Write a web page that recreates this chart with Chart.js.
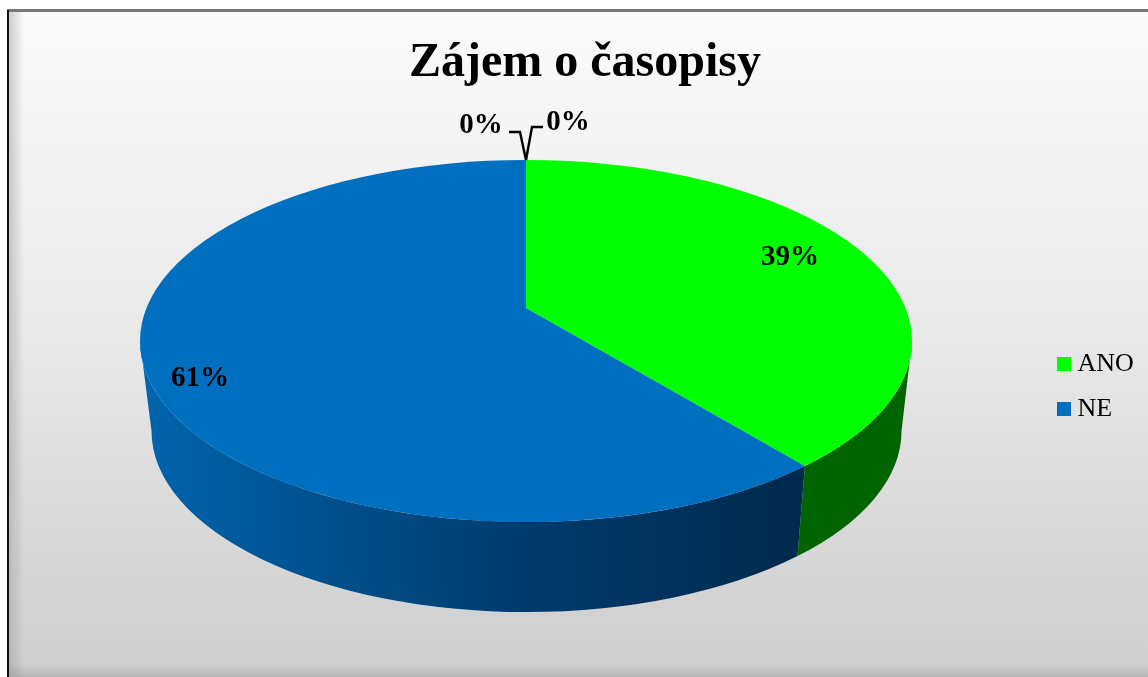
<!DOCTYPE html>
<html><head><meta charset="utf-8">
<style>html,body{margin:0;padding:0;background:#fff;overflow:hidden}canvas{display:block}</style>
<script src="https://cdn.jsdelivr.net/npm/chart.js@4/dist/chart.umd.min.js"></script>
</head><body><canvas id="c" width="1148" height="677"></canvas>
<script>
const chartTitle = 'Zájem o časopisy';
const categories = ['ANO', 'NE', '', ''];
const values = [39, 61, 0, 0];
const dataLabels = ['39%', '61%', '0%', '0%'];
const topColors = ['#00ff00', '#006fc0', '#c0504d', '#8064a2'];

const serif = '"Liberation Serif", serif';
const pie = {cx:526, cy:341, rx:386, ry:181, apexY:308, lowCx:526.5, lowCy:431, lowRx:375, lowRy:181};
const labelAt = [[790,258],[200,379],[481,126],[568,123]];
const leaders = [[[509,132],[520,132],[526,160]],[[543,127],[532,127],[526,160]]];

function phiFor(angle){
  const k = pie.ry/pie.rx, ay = (pie.apexY-pie.cy)/k;
  const c = Math.cos(angle), s = Math.sin(angle);
  const b = ay*s, t = -b + Math.sqrt(b*b - (ay*ay - pie.rx*pie.rx));
  return Math.atan2(ay + t*s, t*c);
}
function unwrap(a, ref){ while(a < ref) a += 2*Math.PI; return a; }

const pie3d = {
  id:'pie3d',
  beforeDraw(chart){
    const c = chart.ctx, W = chart.width, H = chart.height;
    c.save();
    c.fillStyle = '#ffffff'; c.fillRect(0,0,W,H);
    let g = c.createLinearGradient(0,12,0,H);
    g.addColorStop(0,'#fbfbfb'); g.addColorStop(0.5,'#e8e8e8'); g.addColorStop(1,'#cdcdcd');
    c.fillStyle = g; c.fillRect(9,12,W-9,H-12);
    g = c.createLinearGradient(9,0,24,0);
    g.addColorStop(0,'rgba(150,150,150,.45)'); g.addColorStop(1,'rgba(150,150,150,0)');
    c.fillStyle = g; c.fillRect(9,12,15,H-12);
    g = c.createLinearGradient(0,664,0,H);
    g.addColorStop(0,'rgba(130,130,130,0)'); g.addColorStop(1,'rgba(130,130,130,.3)');
    c.fillStyle = g; c.fillRect(9,664,W-9,H-664);
    c.fillStyle = '#777777'; c.fillRect(7,9,W-7,3);
    c.fillStyle = '#111111'; c.fillRect(7,10,2,H-10);
    c.restore();
  },
  afterLayout(chart){
    const l = chart.legend, t = chart.titleBlock;
    const lh = l.bottom-l.top, lw = l.right-l.left;
    l.left = 1044.5; l.right = l.left+lw; l.top = 332; l.bottom = l.top+lh;
    const w = t.right-t.left; t.left = 11; t.right = t.left+w;
    t.top = 35;
  },
  beforeDatasetsDraw(chart){
    const c = chart.ctx, arcs = chart.getDatasetMeta(0).data;
    arcs.forEach((a,i)=>{
      if(a.endAngle-a.startAngle<=0) return;
      let p0 = phiFor(a.startAngle), p1 = unwrap(phiFor(a.endAngle),p0);
      p0 = Math.max(p0,0); p1 = Math.min(p1,Math.PI);
      if(p1<=p0) return;
      c.save();
      c.beginPath();
      c.ellipse(pie.cx,pie.cy,pie.rx,pie.ry,0,p0,p1,false);
      c.ellipse(pie.lowCx,pie.lowCy,pie.lowRx,pie.lowRy,0,p1,p0,true);
      c.closePath();
      if(i===1){
        const g = c.createLinearGradient(145,0,800,0);
        g.addColorStop(0,'#0064ad'); g.addColorStop(0.25,'#00528f');
        g.addColorStop(0.6,'#003a6b'); g.addColorStop(1,'#002a4d');
        c.fillStyle = g;
      } else c.fillStyle = '#006400';
      c.fill();
      c.restore();
    });
    const a = arcs[0], k = pie.ry/pie.rx, S = 470, R = a.outerRadius;
    c.save();
    c.beginPath(); c.ellipse(pie.cx,pie.cy,pie.rx,pie.ry,0,0,2*Math.PI); c.clip();
    c.translate(pie.cx,pie.apexY); c.scale(S/R,S*k/R); c.translate(-a.x,-a.y);
  },
  afterDatasetsDraw(chart){
    const c = chart.ctx;
    c.restore();
    c.save();
    c.strokeStyle = '#000'; c.lineWidth = 2.4; c.lineJoin = 'miter';
    leaders.forEach(l=>{ c.beginPath(); l.forEach((p,i)=> i? c.lineTo(p[0],p[1]) : c.moveTo(p[0],p[1])); c.stroke(); });
    c.fillStyle = '#000'; c.font = 'bold 29px '+serif; c.textAlign='center'; c.textBaseline='middle';
    dataLabels.forEach((t,i)=> c.fillText(t,labelAt[i][0],labelAt[i][1]));
    c.restore();
  }
};

new Chart(document.getElementById('c'),{
  type:'pie',
  data:{labels:categories,datasets:[{data:values,backgroundColor:topColors,borderWidth:0,hoverOffset:0}]},
  options:{
    responsive:false, animation:false,
    plugins:{
      tooltip:{enabled:false},
      title:{display:true,text:chartTitle,color:'#000',font:{family:serif,size:48,weight:'bold'},padding:{top:0,bottom:0}},
      legend:{position:'right',align:'start',labels:{
        font:{family:serif,size:26},color:'#000',boxWidth:1,boxHeight:14,padding:19,
        usePointStyle:true,pointStyle:'rect',filter:it=>it.text!==''}}
    }
  },
  plugins:[pie3d]
});
</script></body></html>
